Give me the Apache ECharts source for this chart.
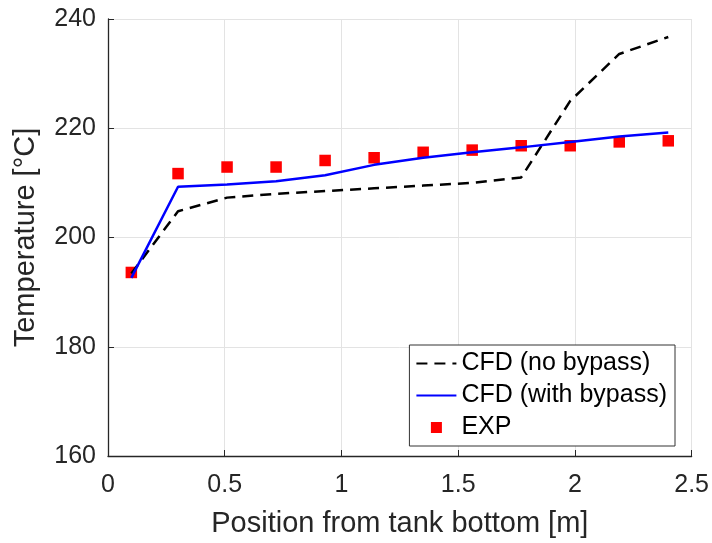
<!DOCTYPE html>
<html>
<head>
<meta charset="utf-8">
<script src="https://cdn.jsdelivr.net/npm/echarts@6/dist/echarts.min.js"></script>
<style>html,body{margin:0;padding:0;background:#fff;}#c{width:712px;height:543px;}</style>
</head>
<body>
<div id="c"></div>
<script>
const positions = [0.1, 0.3, 0.51, 0.72, 0.93, 1.14, 1.35, 1.56, 1.77, 1.98, 2.19, 2.4];
const cfdNoBypass = [193.4, 204.8, 207.3, 208.0, 208.5, 209.0, 209.5, 210.0, 211.0, 225.0, 233.6, 236.7];
const cfdWithBypass = [192.6, 209.3, 209.7, 210.3, 211.4, 213.3, 214.6, 215.6, 216.5, 217.5, 218.5, 219.2];
const expValues = [193.6, 211.7, 212.9, 212.9, 214.1, 214.6, 215.6, 216.0, 216.8, 216.8, 217.5, 217.7];
const xTicks = [0, 0.5, 1, 1.5, 2, 2.5];
const yTicks = [160, 180, 200, 220, 240];

const pair = (xs, ys) => xs.map((x, i) => [x, ys[i]]);
const FONT = 'Liberation Sans, Arial, Helvetica, sans-serif';
const TXT = '#262626';

const chart = echarts.init(document.getElementById('c'), null, {renderer: 'canvas'});
chart.setOption({
  animation: false,
  backgroundColor: '#fff',
  grid: {left: 108, top: 19, width: 588, height: 443, containLabel: false},
  xAxis: {
    type: 'value', min: xTicks[0], max: xTicks[xTicks.length - 1], interval: 0.5,
    name: 'Position from tank bottom [m]', nameLocation: 'middle', nameGap: 53,
    nameTextStyle: {fontFamily: FONT, fontSize: 29, color: TXT},
    axisLine: {show: true, onZero: false, lineStyle: {color: TXT, width: 1.3}},
    axisTick: {show: true, inside: true, length: 6, lineStyle: {color: TXT, width: 1}},
    axisLabel: {fontFamily: FONT, fontSize: 25, color: TXT, margin: 17,
      formatter: v => String(v)},
    splitLine: {show: true, lineStyle: {color: '#e3e3e3', width: 1}}
  },
  yAxis: {
    type: 'value', min: yTicks[0], max: yTicks[yTicks.length - 1], interval: 20,
    name: 'Temperature [°C]', nameLocation: 'middle', nameGap: 68,
    nameTextStyle: {fontFamily: FONT, fontSize: 29, color: TXT},
    axisLine: {show: true, onZero: false, lineStyle: {color: TXT, width: 1.3}},
    axisTick: {show: true, inside: true, length: 6, lineStyle: {color: TXT, width: 1}},
    axisLabel: {fontFamily: FONT, fontSize: 25, color: TXT, margin: 12},
    splitLine: {show: true, lineStyle: {color: '#e3e3e3', width: 1}}
  },
  legend: {
    orient: 'vertical', right: 37, top: 345,
    backgroundColor: '#fff', borderColor: '#333', borderWidth: 1, borderRadius: 0,
    padding: [6, 8, 6, 6], itemGap: 7, itemWidth: 40, itemHeight: 11,
    symbolKeepAspect: true,
    textStyle: {fontFamily: FONT, fontSize: 25, color: '#000'},
    data: [
      {name: 'CFD (no bypass)', itemStyle: {opacity: 0}},
      {name: 'CFD (with bypass)', itemStyle: {opacity: 0}},
      {name: 'EXP', icon: 'path://M0,0H10V10H0Z', itemStyle: {color: '#ff0000'}}
    ]
  },
  series: [
    {name: 'CFD (no bypass)', type: 'line', data: pair(positions, cfdNoBypass),
      showSymbol: false, symbol: 'none', lineStyle: {color: '#000', width: 2.5, type: [11, 7]},
      itemStyle: {color: '#000'}, z: 2},
    {name: 'CFD (with bypass)', type: 'line', data: pair(positions, cfdWithBypass),
      showSymbol: false, symbol: 'none', lineStyle: {color: '#0000ff', width: 2.5},
      itemStyle: {color: '#0000ff'}, z: 3},
    {name: 'EXP', type: 'scatter', data: pair(positions, expValues),
      symbol: 'rect', symbolSize: 11.5, itemStyle: {color: '#ff0000', opacity: 1}, z: 1}
  ]
});
</script>
</body>
</html>
